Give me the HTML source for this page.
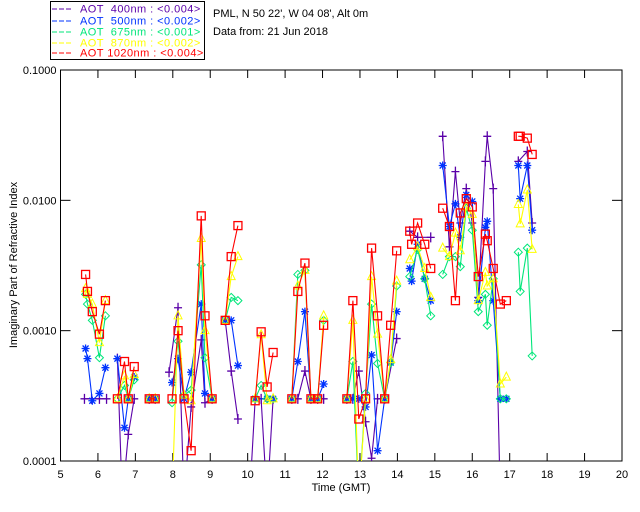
<!DOCTYPE html>
<html><head><meta charset="utf-8">
<style>
body{margin:0;background:#fff;}
svg{display:block;font-family:"Liberation Sans",sans-serif;}
.lg{letter-spacing:0.45px;}
</style></head>
<body>
<svg id="chart" width="640" height="512" viewBox="0 0 640 512" xmlns="http://www.w3.org/2000/svg">
<rect x="0" y="0" width="640" height="512" fill="#fff"/>
<g>
 <rect x="50.5" y="1.5" width="154" height="58" fill="#fff" stroke="#000"/>
 <line x1="52" y1="9" x2="73" y2="9" stroke="#5a00a8" stroke-dasharray="5,2"/>
 <text class="lg" x="80" y="12.5" font-size="11" fill="#5a00a8" xml:space="preserve">AOT  400nm : &lt;0.004&gt;</text>
 <line x1="52" y1="21" x2="73" y2="21" stroke="#0033ff" stroke-dasharray="5,2"/>
 <text class="lg" x="80" y="24.5" font-size="11" fill="#0033ff" xml:space="preserve">AOT  500nm : &lt;0.002&gt;</text>
 <line x1="52" y1="32" x2="73" y2="32" stroke="#00e67a" stroke-dasharray="5,2"/>
 <text class="lg" x="80" y="35.5" font-size="11" fill="#00e67a" xml:space="preserve">AOT  675nm : &lt;0.001&gt;</text>
 <line x1="52" y1="43" x2="73" y2="43" stroke="#ffff00" stroke-dasharray="5,2"/>
 <text class="lg" x="80" y="46.5" font-size="11" fill="#ffff00" xml:space="preserve">AOT  870nm : &lt;0.002&gt;</text>
 <line x1="52" y1="53" x2="73" y2="53" stroke="#ff0000" stroke-dasharray="5,2"/>
 <text class="lg" x="80" y="56.5" font-size="11" fill="#ff0000" xml:space="preserve">AOT 1020nm : &lt;0.004&gt;</text>
</g>
<text x="213" y="17" font-size="11" fill="#000">PML, N 50 22', W 04 08', Alt 0m</text>
<text x="213" y="35" font-size="11" fill="#000">Data from: 21 Jun 2018</text>
<g id="axes"></g>
<g id="series"></g>
<text x="341" y="491" font-size="11" text-anchor="middle">Time (GMT)</text>
<text transform="translate(17,265) rotate(-90)" font-size="11" text-anchor="middle">Imaginary Part of Refractive Index</text>
</svg>
<script>
const xTicks = [5,6,7,8,9,10,11,12,13,14,15,16,17,18,19,20];
const yTicks = [0.1,0.01,0.001,0.0001];
const yTickLabels = ["0.1000","0.0100","0.0010","0.0001"];
const seriesNames = ["400nm","500nm","675nm","870nm","1020nm"];
const seriesColors = ["#5a00a8","#0033ff","#00e67a","#ffff00","#ff0000"];
const N = null;
const s400 = [[5.64,.0003],[5.83,.0003],[6.04,.0003],[6.23,.0003],N,[6.52,.00061],[6.65,.00005],[6.81,.00016],[6.97,.0003],N,[7.37,.0003],[7.53,.0003],N,[7.9,.00048],[8.14,.0015],[8.3,.00005],[8.49,.00026],[8.76,.00085],[8.86,.00028],[9.05,.0003],N,[9.4,.0012],[9.56,.00049],[9.74,.00021],N,[10.05,.00005],[10.2,.0003],[10.36,.0003],[10.52,.00005],[10.68,.0003],N,[11.18,.0003],[11.34,.0003],[11.53,.00049],[11.69,.0003],[11.87,.0003],[12.03,.0003],N,[12.65,.0003],[12.81,.0003],[12.97,.00049],[13.15,.0002],[13.31,.000105],[13.47,.0003],[13.66,.0003],[13.98,.00087],N,[14.33,.0058],[14.54,.0052],[14.89,.0052],N,[15.21,.031],[15.39,.0044],[15.55,.0166],[15.68,.0067],[15.84,.0123],[16.0,.0067],[16.16,.0018],[16.35,.0199],[16.4,.031],[16.56,.0123],[16.75,.00005],N,[17.23,.0199],[17.47,.0237],[17.6,.0067]];
const s500 = [[5.67,.00073],[5.72,.00061],[5.85,.00029],[6.04,.00033],[6.2,.00052],N,[6.52,.00061],[6.71,.00018],[6.81,.0003],[6.97,.00044],N,[7.37,.0003],[7.53,.0003],N,[7.98,.0004],[8.14,.00061],[8.3,.0003],[8.49,.00048],[8.76,.0016],[8.86,.00033],[9.05,.0003],N,[9.4,.0012],[9.56,.0012],[9.74,.00054],N,[10.2,.0003],[10.52,.0003],[10.68,.0003],N,[11.18,.0003],[11.34,.00058],[11.53,.0014],[11.69,.0003],[11.87,.0003],[12.03,.00039],N,[12.65,.0003],[12.81,.0003],[12.97,.0003],[13.15,.00026],[13.31,.00065],[13.47,.00012],[13.66,.0003],[13.82,.00057],[13.98,.0014],N,[14.33,.003],[14.38,.0024],[14.54,.0046],[14.73,.0025],[14.89,.0017],N,[15.21,.0185],[15.39,.0063],[15.55,.0094],[15.68,.0052],[15.84,.011],[16.0,.0098],[16.16,.0017],[16.35,.0062],[16.4,.0069],[16.56,.0017],[16.75,.0003],[16.91,.0003],N,[17.23,.0185],[17.28,.0103],[17.47,.0185],[17.6,.0059]];
const s675 = [[5.67,.0019],[5.72,.0016],[5.85,.0012],[6.04,.00062],[6.2,.0013],N,[6.52,.0003],[6.71,.00038],[6.81,.0003],[6.97,.00042],N,[7.37,.0003],[7.53,.0003],N,[7.98,.00028],[8.14,.00083],[8.3,.00032],[8.49,.00035],[8.76,.0032],[8.86,.00062],[9.05,.0003],N,[9.4,.0012],[9.56,.0018],[9.74,.0017],N,[10.2,.0003],[10.36,.00038],[10.52,.0003],[10.68,.0003],N,[11.18,.0003],[11.34,.0027],[11.53,.0029],[11.69,.0003],[11.87,.0003],[12.03,.0012],N,[12.65,.0003],[12.81,.00058],[12.97,.00005],[13.15,.00033],[13.31,.0016],[13.47,.00056],[13.66,.0003],[13.82,.00057],[13.98,.0022],N,[14.33,.0026],[14.54,.0042],[14.73,.0025],[14.89,.0013],N,[15.21,.0027],[15.39,.0037],[15.55,.0037],[15.68,.0031],[15.84,.0087],[16.0,.0059],[16.16,.0014],[16.35,.0019],[16.4,.0011],[16.56,.0025],[16.75,.0003],[16.91,.0003],N,[17.23,.004],[17.28,.002],[17.47,.0043],[17.6,.00064]];
const s870 = [[5.67,.0021],[5.72,.0019],[5.85,.0016],[6.04,.00081],[6.2,.0017],N,[6.52,.0003],[6.71,.00045],[6.81,.0003],[6.97,.00046],N,[7.37,.0003],[7.53,.0003],N,[7.98,.00005],[8.14,.0013],[8.3,.00032],[8.49,.00029],[8.76,.0051],[8.86,.001],[9.05,.0003],N,[9.4,.0012],[9.56,.0026],[9.74,.0037],N,[10.2,.0003],[10.36,.00093],[10.52,.00029],[10.68,.0003],N,[11.18,.0003],[11.34,.0022],[11.53,.0029],[11.69,.0003],[11.87,.0003],[12.03,.0013],N,[12.65,.0003],[12.81,.0012],[12.97,.00005],[13.15,.0003],[13.31,.0026],[13.47,.00094],[13.66,.0003],[13.82,.0006],[13.98,.0024],N,[14.33,.0035],[14.54,.0044],[14.73,.003],[14.89,.0018],N,[15.21,.0043],[15.39,.0037],[15.55,.0056],[15.68,.0041],[15.84,.0089],[16.0,.0078],[16.16,.0017],[16.35,.0028],[16.4,.0022],[16.56,.0025],[16.75,.00039],[16.91,.00044],N,[17.23,.0093],[17.28,.0066],[17.47,.012],[17.6,.0042]];
const s1020 = [[5.67,.0027],[5.72,.002],[5.85,.0014],[6.04,.00094],[6.2,.0017],N,[6.52,.0003],[6.71,.00058],[6.81,.0003],[6.97,.00053],N,[7.37,.0003],[7.53,.0003],N,[7.98,.0003],[8.14,.001],[8.3,.0003],[8.49,.00012],[8.76,.0076],[8.86,.0013],[9.05,.0003],N,[9.4,.0012],[9.56,.0037],[9.74,.0064],N,[10.2,.00029],[10.36,.00098],[10.52,.00037],[10.68,.00068],N,[11.18,.0003],[11.34,.002],[11.53,.0033],[11.69,.0003],[11.87,.0003],[12.03,.0011],N,[12.65,.0003],[12.81,.0017],[12.97,.00021],[13.15,.0003],[13.31,.0043],[13.47,.0013],[13.66,.0003],[13.82,.0011],[13.98,.0041],N,[14.33,.0058],[14.38,.0046],[14.54,.0067],[14.73,.0046],[14.89,.003],N,[15.21,.0087],[15.39,.0063],[15.55,.0017],[15.68,.008],[15.84,.0103],[16.0,.0089],[16.16,.0026],[16.35,.0055],[16.4,.0049],[16.56,.003],[16.75,.0016],[16.91,.0017],N,[17.23,.031],[17.28,.031],[17.47,.03],[17.6,.0225]];
const allSeries = [s400,s500,s675,s870,s1020];

const X0=60.5, X1=622, Y0=70, Y1=461;
function xs(t){return X0+(t-5)*(X1-X0)/15;}
function ys(v){return Y0+(-1-Math.log10(v))*(Y1-Y0)/3;}
const NS="http://www.w3.org/2000/svg";
function mk(tag,attrs,parent){const e=document.createElementNS(NS,tag);for(const k in attrs)e.setAttribute(k,attrs[k]);parent.appendChild(e);return e;}

const axes=document.getElementById('axes');
const frame=mk('rect',{x:X0,y:Y0,width:X1-X0,height:Y1-Y0,fill:'none',stroke:'#000','stroke-width':1},axes);


xTicks.forEach(t=>{
  const x=xs(t);
  const tk=mk('line',{x1:x,y1:Y1,x2:x,y2:Y1-8,stroke:'#000'},axes);
  
  
  mk('line',{x1:x,y1:Y0,x2:x,y2:Y0+8,stroke:'#000'},axes);
  const lb=mk('text',{x:x,y:Y1+17,'font-size':11,'text-anchor':'middle'},axes);
  lb.textContent=String(t);
  
  
});
yTicks.forEach((v,i)=>{
  const y=ys(v);
  const tk=mk('line',{x1:X0,y1:y,x2:X0+10,y2:y,stroke:'#000'},axes);
  
  
  mk('line',{x1:X1,y1:y,x2:X1-10,y2:y,stroke:'#000'},axes);
  const lb=mk('text',{x:X0-4,y:y+4,'font-size':11,'text-anchor':'end'},axes);
  lb.textContent=yTickLabels[i];
  
  
});

const sg=document.getElementById('series');
const clip=mk('clipPath',{id:'pc'},sg);
mk('rect',{x:X0,y:Y0,width:X1-X0,height:Y1-Y0},clip);
function marker(kind,x,y,c,g){
  let e;
  if(kind===0){e=mk('path',{d:`M${x-4},${y}H${x+4}M${x},${y-5}V${y+5}`,stroke:c,fill:'none','stroke-width':1.3},g);}
  else if(kind===1){e=mk('path',{d:`M${x-4},${y}H${x+4}M${x},${y-4}V${y+4}M${x-3},${y-3}L${x+3},${y+3}M${x-3},${y+3}L${x+3},${y-3}`,stroke:c,fill:'none','stroke-width':1.3},g);}
  else if(kind===2){e=mk('path',{d:`M${x},${y-4}L${x+4},${y}L${x},${y+4}L${x-4},${y}Z`,stroke:c,fill:'none','stroke-width':1},g);}
  else if(kind===3){e=mk('path',{d:`M${x},${y-5}L${x+4},${y+3}L${x-4},${y+3}Z`,stroke:c,fill:'none','stroke-width':1},g);}
  else {e=mk('rect',{x:x-4,y:y-4,width:8,height:8,stroke:c,fill:'none','stroke-width':1.3},g);}
  
  
}
allSeries.forEach((data,si)=>{
  const c=seriesColors[si];
  const g=mk('g',{'clip-path':'url(#pc)'},sg);
  
  
  let d='',pen=false;
  data.forEach(p=>{
    if(!p){pen=false;return;}
    d+=(pen?'L':'M')+xs(p[0]).toFixed(1)+','+ys(p[1]).toFixed(1);
    pen=true;
  });
  const ln=mk('path',{d:d,stroke:c,fill:'none','stroke-width':1.1},g);
  
  
  data.forEach(p=>{ if(p && p[1]>=0.0001) marker(si,xs(p[0]),ys(p[1]),c,g); });
});
</script>
</body></html>
